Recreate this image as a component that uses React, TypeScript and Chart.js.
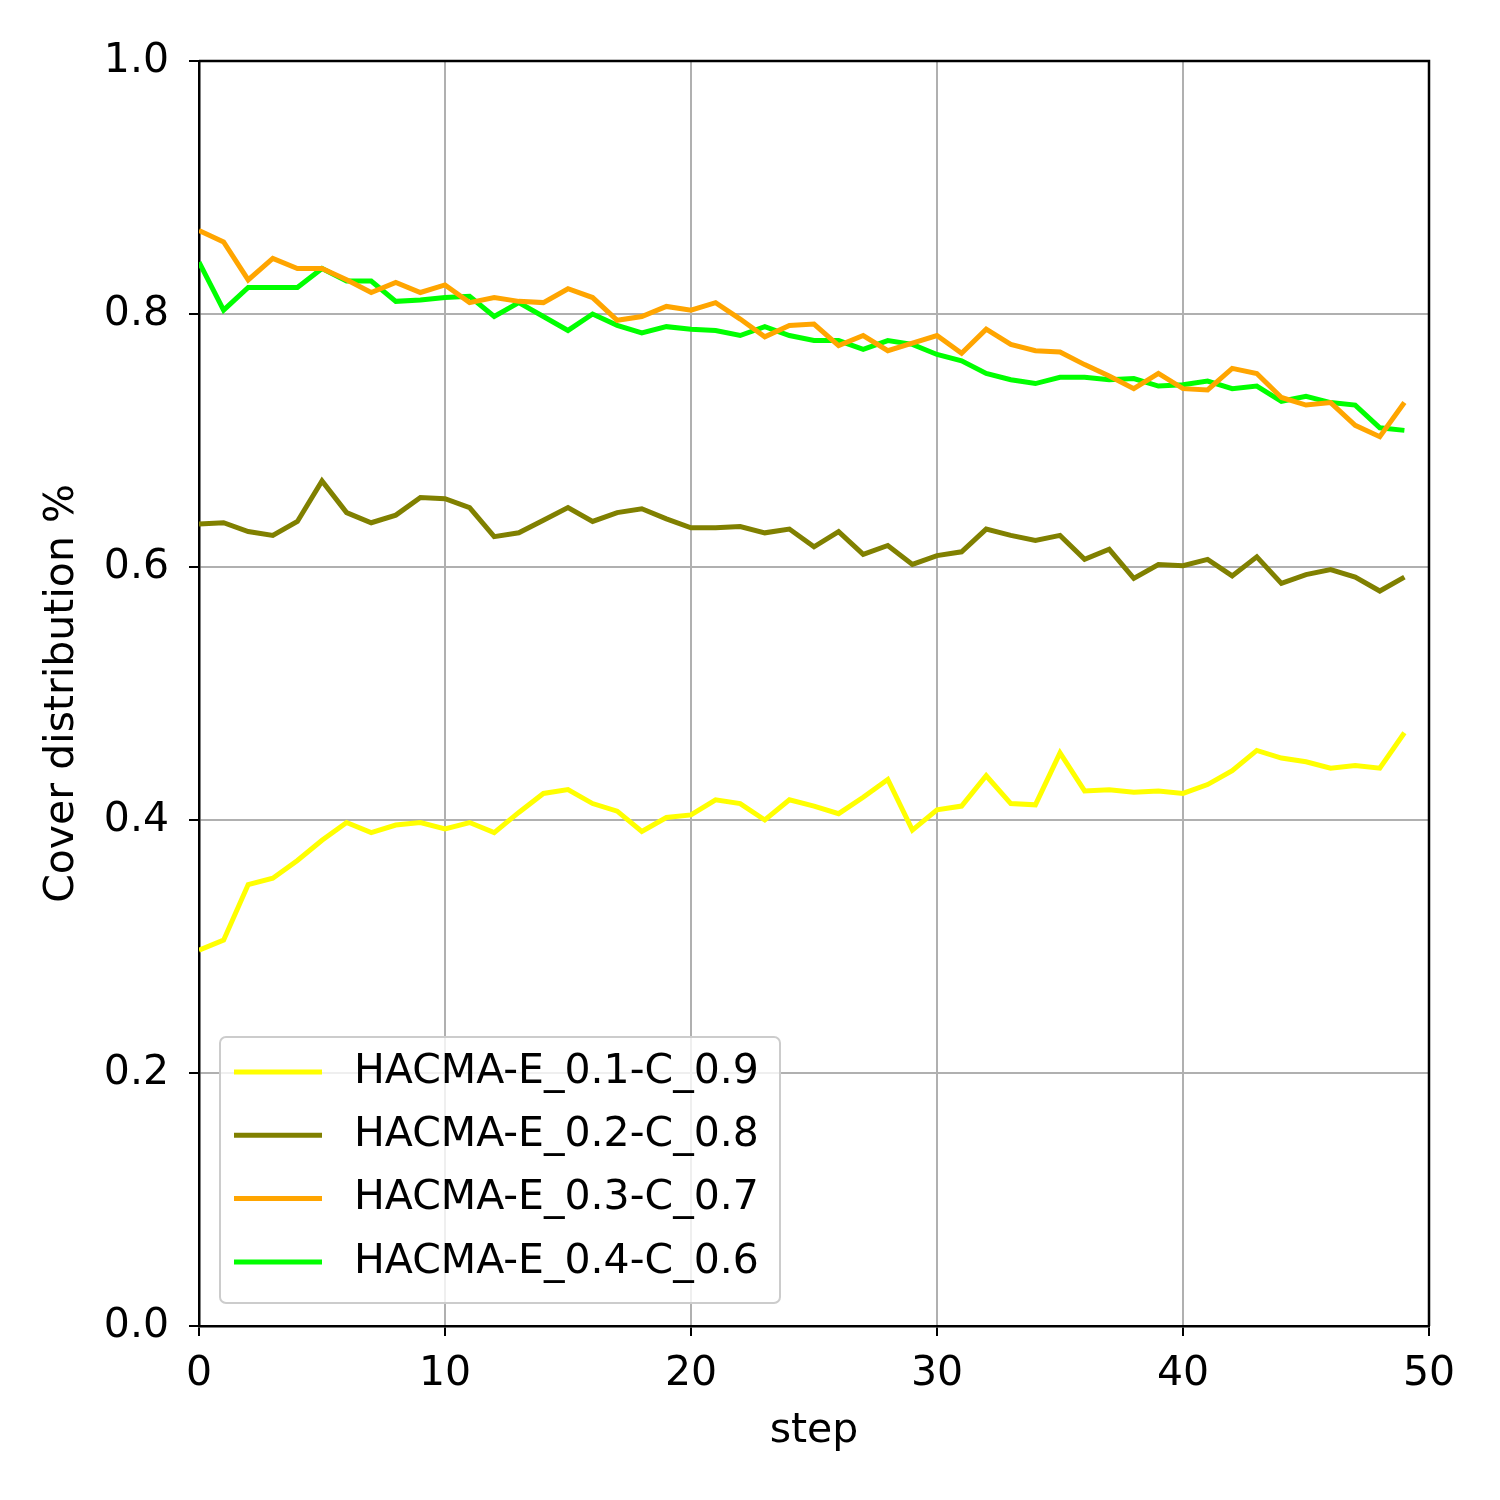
import { useEffect, useRef } from "react";
import Chart from "chart.js/auto";

const steps = Array.from({ length: 50 }, (_, i) => i);

const seriesNames = ["HACMA-E_0.1-C_0.9", "HACMA-E_0.2-C_0.8", "HACMA-E_0.3-C_0.7", "HACMA-E_0.4-C_0.6"];
const seriesColors = ["#ffff00", "#808000", "#ffa500", "#00ff00"];

const e01 = [0.297, 0.305, 0.349, 0.354, 0.368, 0.384, 0.398, 0.39, 0.396, 0.398, 0.393, 0.398, 0.39, 0.406, 0.421, 0.424, 0.413, 0.407, 0.391, 0.402, 0.404, 0.416, 0.413, 0.4, 0.416, 0.411, 0.405, 0.418, 0.432, 0.392, 0.408, 0.411, 0.435, 0.413, 0.412, 0.453, 0.423, 0.424, 0.422, 0.423, 0.421, 0.428, 0.439, 0.455, 0.449, 0.446, 0.441, 0.443, 0.441, 0.469];
const e02 = [0.634, 0.635, 0.628, 0.625, 0.636, 0.668, 0.643, 0.635, 0.641, 0.655, 0.654, 0.647, 0.624, 0.627, 0.637, 0.647, 0.636, 0.643, 0.646, 0.638, 0.631, 0.631, 0.632, 0.627, 0.63, 0.616, 0.628, 0.61, 0.617, 0.602, 0.609, 0.612, 0.63, 0.625, 0.621, 0.625, 0.606, 0.614, 0.591, 0.602, 0.601, 0.606, 0.593, 0.608, 0.587, 0.594, 0.598, 0.592, 0.581, 0.592];
const e03 = [0.866, 0.857, 0.827, 0.844, 0.836, 0.836, 0.827, 0.817, 0.825, 0.817, 0.823, 0.809, 0.813, 0.81, 0.809, 0.82, 0.813, 0.795, 0.798, 0.806, 0.803, 0.809, 0.796, 0.782, 0.791, 0.792, 0.775, 0.783, 0.771, 0.777, 0.783, 0.769, 0.788, 0.776, 0.771, 0.77, 0.76, 0.751, 0.741, 0.753, 0.741, 0.74, 0.757, 0.753, 0.734, 0.728, 0.73, 0.712, 0.703, 0.73];
const e04 = [0.841, 0.803, 0.821, 0.821, 0.821, 0.836, 0.826, 0.826, 0.81, 0.811, 0.813, 0.814, 0.798, 0.809, 0.798, 0.787, 0.8, 0.791, 0.785, 0.79, 0.788, 0.787, 0.783, 0.79, 0.783, 0.779, 0.779, 0.772, 0.779, 0.776, 0.768, 0.763, 0.753, 0.748, 0.745, 0.75, 0.75, 0.748, 0.749, 0.743, 0.744, 0.747, 0.741, 0.743, 0.731, 0.735, 0.73, 0.728, 0.71, 0.708];

const allSeries = [e01, e02, e03, e04];
const FONT = "'DejaVu Sans', sans-serif";
const FS = 41;

const legendPlugin = {
  id: "insideLegend",
  afterDraw(chart: any) {
    const ctx = chart.ctx;
    const a = chart.chartArea;
    ctx.save();
    // top and right frame
    ctx.strokeStyle = "#000";
    ctx.lineWidth = 2.5;
    ctx.beginPath();
    ctx.moveTo(a.left, a.top);
    ctx.lineTo(a.right, a.top);
    ctx.lineTo(a.right, a.bottom);
    ctx.stroke();

    const x = 220, y = 1037, w = 560, h = 266;
    ctx.fillStyle = "rgba(255,255,255,0.8)";
    ctx.strokeStyle = "#cccccc";
    ctx.lineWidth = 2;
    ctx.beginPath();
    ctx.roundRect(x, y, w, h, 6);
    ctx.fill();
    ctx.stroke();
    ctx.font = `${FS}px ${FONT}`;
    ctx.textBaseline = "middle";
    seriesNames.forEach((name, i) => {
      const cy = 1072 + i * 63.3;
      ctx.strokeStyle = seriesColors[i];
      ctx.lineWidth = 5;
      ctx.beginPath();
      ctx.moveTo(234, cy);
      ctx.lineTo(322, cy);
      ctx.stroke();
      ctx.fillStyle = "#000";
      ctx.fillText(name, 354, cy);
    });
    ctx.restore();
  },
};

export default function App() {
  const canvasRef = useRef<HTMLCanvasElement | null>(null);

  useEffect(() => {
    document.body.style.margin = "0";
    if (!canvasRef.current) return;
    const chart = new Chart(canvasRef.current, {
      type: "line",
      data: {
        datasets: allSeries.map((vals, i) => ({
          label: seriesNames[i],
          data: steps.map((s) => ({ x: s, y: vals[s] })),
          borderColor: seriesColors[i],
          borderWidth: 5,
          pointRadius: 0,
          tension: 0,
          fill: false,
        })),
      },
      options: {
        animation: false,
        responsive: false,
        devicePixelRatio: 1,
        layout: { padding: { left: 0, top: 61, right: 71, bottom: 0 } },
        plugins: { legend: { display: false }, tooltip: { enabled: false } },
        scales: {
          x: {
            type: "linear",
            min: 0,
            max: 50,
            afterFit: (s: any) => { s.height = 174; },
            ticks: { stepSize: 10, color: "#000", font: { family: FONT, size: FS }, padding: 14, maxRotation: 0 },
            grid: { color: "#b0b0b0", lineWidth: 2, tickColor: "#000", tickLength: 10 },
            border: { color: "#000", width: 2.5 },
            title: { display: true, text: "step", color: "#000", font: { family: FONT, size: FS }, padding: { top: 0, bottom: 44 } },
          },
          y: {
            min: 0,
            max: 1,
            afterFit: (s: any) => { s.width = 199; },
            ticks: { stepSize: 0.2, color: "#000", font: { family: FONT, size: FS }, padding: 20, callback: (v: any) => Number(v).toFixed(1) },
            grid: { color: "#b0b0b0", lineWidth: 2, tickColor: "#000", tickLength: 10 },
            border: { color: "#000", width: 2.5 },
            title: { display: true, text: "Cover distribution %", color: "#000", font: { family: FONT, size: FS }, padding: { top: 38, bottom: 0 } },
          },
        },
      },
      plugins: [legendPlugin],
    });
    return () => chart.destroy();
  }, []);

  return (
    <div style={{ width: 1500, height: 1500, background: "#fff" }}>
      <canvas ref={canvasRef} width={1500} height={1500} />
    </div>
  );
}
